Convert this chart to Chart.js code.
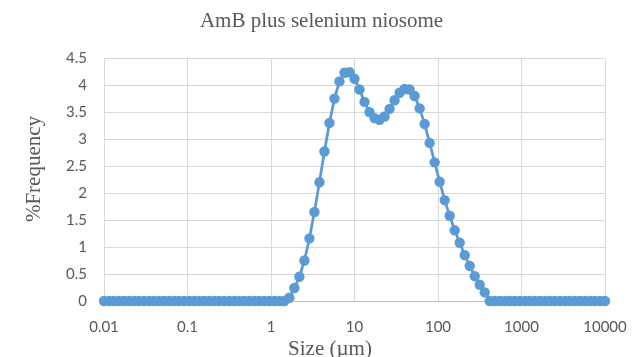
<!DOCTYPE html>
<html>
<head>
<meta charset="utf-8">
<script src="https://cdn.jsdelivr.net/npm/chart.js@4"></script>
<style>
  body { margin: 0; background: #fff; }
  #wrap { width: 635px; height: 357px; }
</style>
</head>
<body>
<div id="wrap"><canvas id="sizeChart" width="635" height="357"></canvas></div>
<script>
// particle size bins (µm), log spaced
const sizes = [
  0.01, 0.01148, 0.01318, 0.01514, 0.01738, 0.01995, 0.02291, 0.0263, 0.0302, 0.03467,
  0.03981, 0.04571, 0.05248, 0.06026, 0.06918, 0.07943, 0.0912, 0.1047, 0.1202, 0.138,
  0.1585, 0.182, 0.2089, 0.2399, 0.2754, 0.3162, 0.3631, 0.4169, 0.4786, 0.5495,
  0.631, 0.7244, 0.8318, 0.955, 1.096, 1.259, 1.445, 1.66, 1.905, 2.188,
  2.512, 2.884, 3.311, 3.802, 4.365, 5.012, 5.754, 6.607, 7.586, 8.71,
  10, 11.48, 13.18, 15.14, 17.38, 19.95, 22.91, 26.3, 30.2, 34.67,
  39.81, 45.71, 52.48, 60.26, 69.18, 79.43, 91.2, 104.7, 120.2, 138,
  158.5, 182, 208.9, 239.9, 275.4, 316.2, 363.1, 416.9, 478.6, 549.5,
  631, 724.4, 831.8, 955, 1096, 1259, 1445, 1660, 1905, 2188,
  2512, 2884, 3311, 3802, 4365, 5012, 5754, 6607, 7586, 8710,
  10000
];

// % frequency per bin
const frequency = [
  0, 0, 0, 0, 0, 0, 0, 0, 0, 0,
  0, 0, 0, 0, 0, 0, 0, 0, 0, 0,
  0, 0, 0, 0, 0, 0, 0, 0, 0, 0,
  0, 0, 0, 0, 0, 0, 0, 0.06, 0.24, 0.45,
  0.75, 1.16, 1.65, 2.2, 2.77, 3.3, 3.75, 4.07, 4.23, 4.24,
  4.12, 3.92, 3.69, 3.5, 3.39, 3.36, 3.42, 3.56, 3.72, 3.86,
  3.93, 3.92, 3.8, 3.57, 3.28, 2.93, 2.57, 2.21, 1.87, 1.58,
  1.31, 1.08, 0.85, 0.65, 0.46, 0.3, 0.16, 0, 0, 0,
  0, 0, 0, 0, 0, 0, 0, 0, 0, 0,
  0, 0, 0, 0, 0, 0, 0, 0, 0, 0,
  0
];

const xTicks = [0.01, 0.1, 1, 10, 100, 1000, 10000];

const chartTitle = "AmB plus selenium niosome";
const xTitle = "Size (µm)";
const yTitle = "%Frequency";

const points = sizes.map((s, i) => ({ x: s, y: frequency[i] }));

const grey = "#595959";
const gridColor = "#d9d9d9";
const serif = "'Liberation Serif', 'Times New Roman', serif";
const sans = "Lato, 'Open Sans', sans-serif";

// axis titles sit a bit off-centre in the original, so draw them by hand
const axisTitles = {
  id: "axisTitles",
  afterDraw(chart) {
    const c = chart.ctx;
    c.save();
    c.fillStyle = grey;
    c.font = "21px " + serif;
    c.textAlign = "center";
    c.textBaseline = "alphabetic";
    c.fillText(xTitle, 330, 355);
    c.translate(40, 169);
    c.rotate(-Math.PI / 2);
    c.fillText(yTitle, 0, 0);
    c.restore();
  }
};

const ctx = document.getElementById("sizeChart").getContext("2d");

new Chart(ctx, {
  type: "line",
  data: {
    datasets: [{
      label: chartTitle,
      data: points,
      borderColor: "#5b9bd5",
      backgroundColor: "#5b9bd5",
      borderWidth: 2.75,
      pointRadius: 5.2,
      pointHoverRadius: 5.2,
      pointBorderWidth: 0,
      tension: 0,
      clip: false
    }]
  },
  options: {
    responsive: false,
    animation: false,
    layout: { padding: { left: 38, right: 30, top: 0, bottom: 0 } },
    plugins: {
      legend: { display: false },
      tooltip: { enabled: false },
      title: {
        display: true,
        text: chartTitle,
        color: grey,
        font: { family: serif, size: 21, weight: "normal" },
        padding: { top: 9, bottom: 24 }
      }
    },
    scales: {
      x: {
        type: "logarithmic",
        min: 0.01,
        max: 10000,
        afterBuildTicks: (scale) => {
          scale.ticks = xTicks.map(v => ({ value: v }));
        },
        afterFit: (scale) => {
          scale.height = 56;
          scale.paddingLeft = 0;
          scale.paddingRight = 0;
        },
        grid: { color: gridColor, lineWidth: 1, drawTicks: false },
        border: { display: true, color: "#bfbfbf", width: 1 },
        ticks: {
          color: grey,
          font: { family: sans, size: 15 },
          padding: 17,
          maxRotation: 0,
          autoSkip: false,
          callback: (v) => String(v)
        }
      },
      y: {
        min: 0,
        max: 4.5,
        afterFit: (scale) => {
          scale.width = 66;
          scale.paddingTop = 0;
          scale.paddingBottom = 0;
        },
        grid: { color: gridColor, lineWidth: 1, drawTicks: false },
        border: { display: false },
        ticks: {
          stepSize: 0.5,
          color: grey,
          font: { family: sans, size: 15 },
          padding: 17,
          callback: (v) => String(v)
        }
      }
    }
  },
  plugins: [axisTitles]
});
</script>
</body>
</html>
